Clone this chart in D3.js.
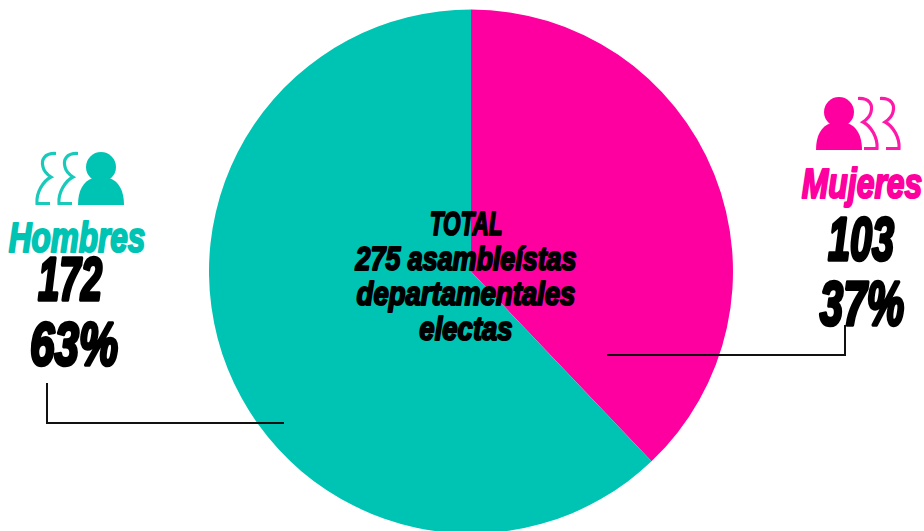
<!DOCTYPE html>
<html><head><meta charset="utf-8">
<script src="https://cdn.jsdelivr.net/npm/d3@7"></script>
<style>
html,body{margin:0;padding:0;background:#fff;overflow:hidden}
svg{display:block}
text{font-family:"Liberation Sans",sans-serif;font-weight:700;font-style:italic;text-anchor:middle;paint-order:stroke;stroke-linejoin:round}
</style></head><body>
<svg id="c" width="924" height="531"></svg>
<script>
const categories=["Mujeres","Hombres"];
const counts=[103,172];
const percents=["37%","63%"];
const sliceShares=[37.9,62.1];
const colors=["#ff00a0","#00c4b3"];
const centerLines=["TOTAL","275 asambleístas","departamentales","electas"];

const svg=d3.select("#c");
const cx=471,cy=271.5,R=262;
const pie=d3.pie().sort(null).value(d=>d);
const arc=d3.arc().innerRadius(0).outerRadius(R);
svg.append("g").attr("transform",`translate(${cx},${cy})`)
  .selectAll("path").data(pie(sliceShares)).join("path")
  .attr("d",arc).attr("fill",(d,i)=>colors[i]);

svg.append("path").attr("fill","none").attr("stroke","#111").attr("stroke-width",2)
  .attr("d","M607,355H845V325");
svg.append("path").attr("fill","none").attr("stroke","#111").attr("stroke-width",2)
  .attr("d","M47,383V423H284");

function label(str,x,y,size,fill,sx,sw){
  return svg.append("text").attr("transform",`translate(${x},${y}) scale(${sx},1)`)
    .attr("font-size",size).attr("fill",fill).attr("stroke",fill).attr("stroke-width",sw).text(str);
}
const cy0=[235,270,305,340], csx=[0.66,0.79,0.81,0.81];
centerLines.forEach((t,i)=>label(t,466,cy0[i],34,"#000",csx[i],2));
label(categories[0],862,198,42,colors[0],0.76,2.2);
label(counts[0],861,260,62,"#000",0.64,3.6);
label(percents[0],862,325,62,"#000",0.68,3.6);
label(categories[1],77,252,42,colors[1],0.75,2.2);
label(counts[1],70,300,62,"#000",0.62,3.6);
label(percents[1],74,365,62,"#000",0.71,3.6);

function solid(g,c){
  g.append("circle").attr("cx",0).attr("cy",-38).attr("r",15).attr("fill",c);
  g.append("path").attr("fill",c).attr("d","M-23,0C-23,-14 -18,-24 -8,-27L8,-27C18,-24 23,-14 23,0Z");
}
function outline(g,c,x){
  g.append("path").attr("fill","none").attr("stroke",c).attr("stroke-width",3.2).attr("opacity",.9)
   .attr("d",`M${x},-51.5C${x+12},-52 ${x+15},-45 ${x+13},-38C${x+12},-33 ${x+8},-30 ${x+5},-28C${x+13},-24 ${x+20},-12 ${x+19},-1.5L${x+6},-1.5`);
}
const gm=svg.append("g").attr("transform","translate(839,150)");
solid(gm,colors[0]);outline(gm,colors[0],19);outline(gm,colors[0],41);
const gh=svg.append("g").attr("transform","translate(101,205)");
solid(gh,colors[1]);
const gho=gh.append("g").attr("transform","scale(-1,1)");
outline(gho,colors[1],23);outline(gho,colors[1],45);
</script>
</body></html>
